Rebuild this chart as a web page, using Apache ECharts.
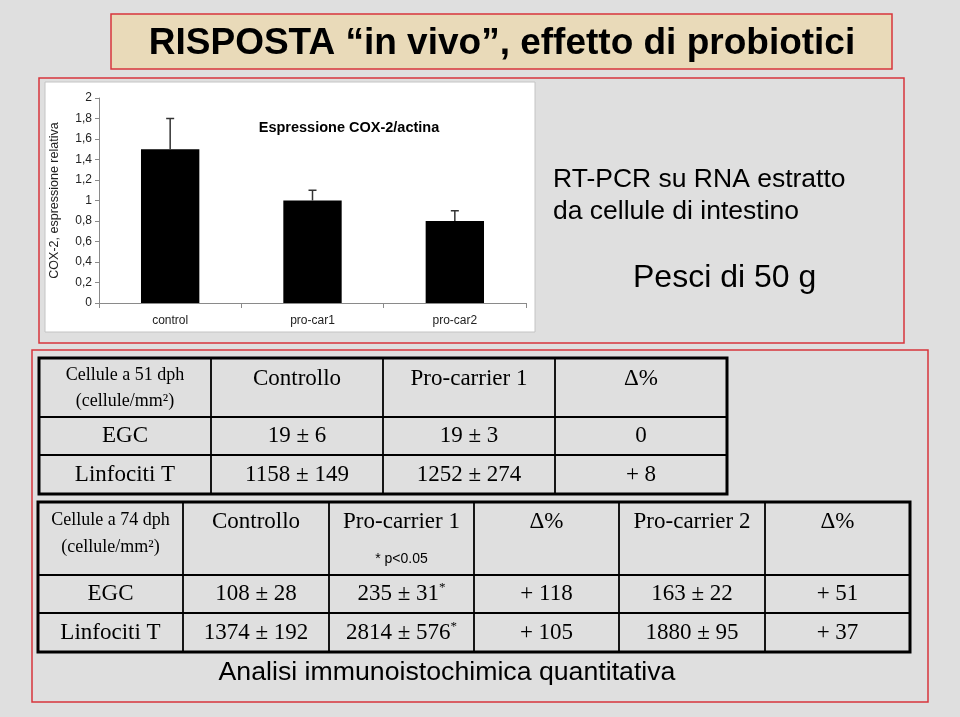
<!DOCTYPE html>
<html>
<head>
<meta charset="utf-8">
<script src="https://cdn.jsdelivr.net/npm/echarts@6/dist/echarts.min.js"></script>
<style>
html,body{margin:0;padding:0;background:#dfdfdf;}
#main{width:960px;height:717px;}
</style>
</head>
<body>
<div id="main"></div>
<script>
// ---- data ----
const categories = ['control', 'pro-car1', 'pro-car2'];
const cox2Means = [1.5, 1.0, 0.8];
const cox2Upper = [1.8, 1.1, 0.9];

const slideTitle = 'RISPOSTA \u201cin vivo\u201d, effetto di probiotici';
const chartTitle = 'Espressione COX-2/actina';
const yAxisName = 'COX-2, espressione relativa';
const sideNotes = ['RT-PCR su RNA estratto', 'da cellule di intestino'];
const fishNote = 'Pesci di 50 g';
const footNote = 'Analisi immunoistochimica quantitativa';

const table1Corner = ['Cellule a 51 dph', '(cellule/mm\u00b2)'];
const table1Header = ['Controllo', 'Pro-carrier 1', '\u0394%'];
const table1Rows = [
  ['EGC', '19 \u00b1 6', '19 \u00b1 3', '0'],
  ['Linfociti T', '1158 \u00b1 149', '1252 \u00b1 274', '+ 8']
];

const table2Corner = ['Cellule a 74 dph', '(cellule/mm\u00b2)'];
const table2Header = ['Controllo', 'Pro-carrier 1', '\u0394%', 'Pro-carrier 2', '\u0394%'];
const table2Note = '* p<0.05';
const table2Rows = [
  ['EGC', '108 \u00b1 28', '235 \u00b1 31*', '+ 118', '163 \u00b1 22', '+ 51'],
  ['Linfociti T', '1374 \u00b1 192', '2814 \u00b1 576*', '+ 105', '1880 \u00b1 95', '+ 37']
];

// ---- layout ----
const SANS = 'Liberation Sans, Arial, Helvetica, sans-serif';
const SERIF = 'Liberation Serif, Times New Roman, serif';
const RED = '#d8363c';
const g = [];

function rect(x, y, w, h, style, z) {
  g.push({type: 'rect', z: z == null ? -5 : z, silent: true, shape: {x, y, width: w, height: h}, style});
}
function line(x1, y1, x2, y2, w, z) {
  g.push({type: 'line', z: z == null ? 5 : z, silent: true, shape: {x1, y1, x2, y2}, style: {stroke: '#000', lineWidth: w}});
}
function text(t, x, y, fontSize, family, opts) {
  opts = opts || {};
  g.push({type: 'text', z: 10, silent: true, x, y, style: Object.assign({
    text: t, fill: '#000', font: (opts.weight || 'normal') + ' ' + fontSize + 'px ' + family,
    align: opts.align || 'center', verticalAlign: 'middle'
  }, opts.extra || {})});
}
function cellText(t, x, y, fontSize) {
  if (t.endsWith('*')) {
    g.push({type: 'text', z: 10, silent: true, x, y, style: {
      text: '{m|' + t.slice(0, -1) + '}{s|*}',
      align: 'center', verticalAlign: 'middle',
      rich: {
        m: {fontSize: fontSize, fontFamily: SERIF, fill: '#000', lineHeight: fontSize + 2},
        s: {fontSize: 13, fontFamily: SERIF, fill: '#000', verticalAlign: 'top', lineHeight: fontSize + 2}
      }
    }});
  } else {
    text(t, x, y, fontSize, SERIF);
  }
}

// slide frames
rect(111, 14, 781, 55, {fill: '#e9dab9', stroke: RED, lineWidth: 1.5}, -6);
rect(39, 78, 865, 265, {fill: 'none', stroke: RED, lineWidth: 1.5}, -6);
rect(32, 350, 896, 352, {fill: 'none', stroke: RED, lineWidth: 1.5}, -6);
rect(45, 82, 490, 250, {fill: '#ffffff', stroke: '#c4c4c4', lineWidth: 1}, -5);

text(slideTitle, 502, 44, 37, SANS, {weight: 'bold'});
text(chartTitle, 349, 128, 14.5, SANS, {weight: 'bold'});
text(sideNotes[0], 553, 180, 26.5, SANS, {align: 'left'});
text(sideNotes[1], 553, 212, 26.5, SANS, {align: 'left'});
text(fishNote, 633, 278, 32, SANS, {align: 'left'});
text(footNote, 447, 673, 26.7, SANS);

// table 1
const t1x = [39, 211, 383, 555, 727];
const t1y = [358, 417, 455, 494];
rect(t1x[0], t1y[0], t1x[4] - t1x[0], t1y[3] - t1y[0], {fill: 'none', stroke: '#000', lineWidth: 3}, 6);
for (let i = 1; i < t1x.length - 1; i++) line(t1x[i], t1y[0], t1x[i], t1y[3], 1.8);
for (let j = 1; j < t1y.length - 1; j++) line(t1x[0], t1y[j], t1x[4], t1y[j], 1.8);
const cx1 = i => (t1x[i] + t1x[i + 1]) / 2;
text(table1Corner[0], cx1(0), 375, 18, SERIF);
text(table1Corner[1], cx1(0), 401, 18, SERIF);
table1Header.forEach((h, i) => text(h, cx1(i + 1), 379, 23, SERIF));
table1Rows.forEach((row, r) => {
  const cy = (t1y[r + 1] + t1y[r + 2]) / 2;
  row.forEach((c, i) => cellText(c, cx1(i), cy, 23));
});

// table 2
const t2x = [38, 183, 329, 474, 619, 765, 910];
const t2y = [502, 575, 613, 652];
rect(t2x[0], t2y[0], t2x[6] - t2x[0], t2y[3] - t2y[0], {fill: 'none', stroke: '#000', lineWidth: 3}, 6);
for (let i = 1; i < t2x.length - 1; i++) line(t2x[i], t2y[0], t2x[i], t2y[3], 1.8);
for (let j = 1; j < t2y.length - 1; j++) line(t2x[0], t2y[j], t2x[6], t2y[j], 1.8);
const cx2 = i => (t2x[i] + t2x[i + 1]) / 2;
text(table2Corner[0], cx2(0), 520, 18, SERIF);
text(table2Corner[1], cx2(0), 547, 18, SERIF);
table2Header.forEach((h, i) => text(h, cx2(i + 1), 522, 23, SERIF));
text(table2Note, cx2(2), 559, 14, SANS);
table2Rows.forEach((row, r) => {
  const cy = (t2y[r + 1] + t2y[r + 2]) / 2;
  row.forEach((c, i) => cellText(c, cx2(i), cy, 23));
});

const chart = echarts.init(document.getElementById('main'));
chart.setOption({
  backgroundColor: '#dfdfdf',
  animation: false,
  graphic: {elements: g},
  grid: {left: 99, right: 434, top: 98, bottom: 414, containLabel: false},
  xAxis: {
    type: 'category', data: categories,
    axisLine: {lineStyle: {color: '#8a8a8a', width: 1}},
    axisTick: {show: true, length: 5, lineStyle: {color: '#8a8a8a'}},
    axisLabel: {color: '#222', fontSize: 12, fontFamily: SANS, margin: 12}
  },
  yAxis: {
    type: 'value', min: 0, max: 2, interval: 0.2,
    name: yAxisName, nameLocation: 'middle', nameRotate: 90, nameGap: 38,
    nameTextStyle: {color: '#222', fontSize: 12.5, fontFamily: SANS},
    axisLine: {show: true, lineStyle: {color: '#8a8a8a', width: 1}},
    axisTick: {show: true, length: 4, lineStyle: {color: '#8a8a8a'}},
    splitLine: {show: false},
    axisLabel: {color: '#222', fontSize: 12, fontFamily: SANS, margin: 7,
      formatter: v => String(Number(v.toFixed(1))).replace('.', ',')}
  },
  series: [
    {type: 'bar', data: cox2Means, barWidth: '41%', itemStyle: {color: '#000'}, z: 2},
    {type: 'custom', z: 3,
      data: categories.map((c, i) => [i, cox2Means[i], cox2Upper[i]]),
      renderItem: function (params, api) {
        const p0 = api.coord([api.value(0), api.value(1)]);
        const p1 = api.coord([api.value(0), api.value(2)]);
        const st = {stroke: '#333', lineWidth: 1.5};
        return {type: 'group', children: [
          {type: 'line', shape: {x1: p0[0], y1: p0[1], x2: p1[0], y2: p1[1]}, style: st},
          {type: 'line', shape: {x1: p1[0] - 4, y1: p1[1], x2: p1[0] + 4, y2: p1[1]}, style: st}
        ]};
      }
    }
  ]
});
</script>
</body>
</html>
